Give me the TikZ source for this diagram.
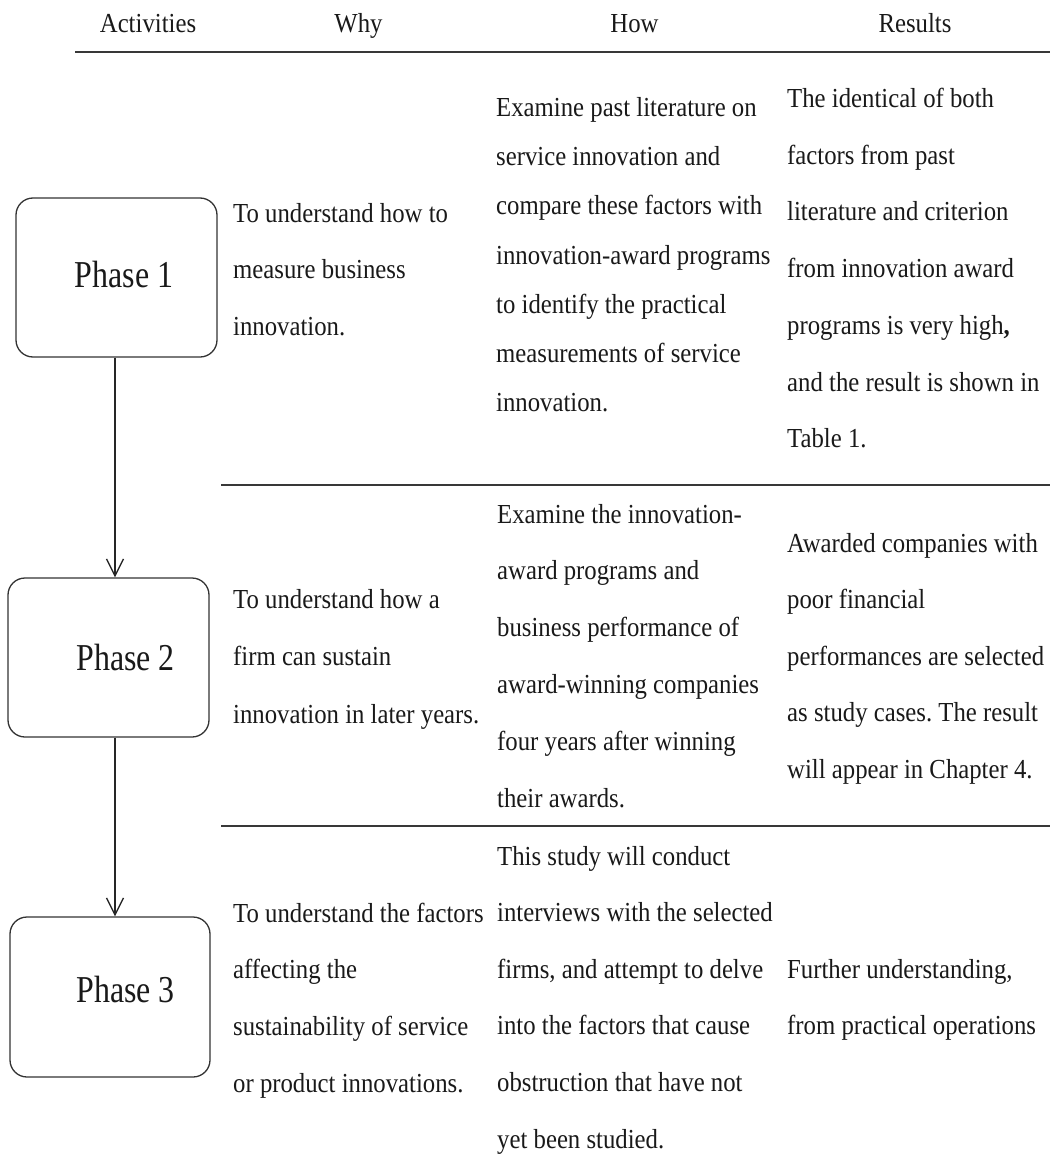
\documentclass[tikz,border=0pt]{standalone}
\usepackage{fontspec}
\setmainfont{Liberation Serif}
\newfontfamily\bodyfont{Liberation Serif}[FakeStretch=0.9]
\newfontfamily\phasefont{Liberation Serif}[FakeStretch=0.84]
\usetikzlibrary{arrows.meta}
\frenchspacing
\newcommand\celllines[5]{%
  \foreach \ln [count=\k] in {#5}{%
    \node[bodytext] (#1-\k) at (#2,{#3+#4*(\k-1)}) {\ln};}}
\tikzset{
  bodytext/.style={font=\bodyfont\fontsize{27.5}{33}\selectfont, anchor=base west, inner sep=0pt, text=black!90},
  headtext/.style={font=\bodyfont\fontsize{27.5}{33}\selectfont, anchor=base, inner sep=0pt, text=black!90},
  phasebox/.style={draw=black!80, line width=1.3pt, rounded corners=17pt, minimum width=201pt, minimum height=159pt, inner sep=0pt},
  phasetext/.style={font=\phasefont\fontsize{38}{40}\selectfont, anchor=base, inner sep=0pt, text=black!90},
  tablerule/.style={draw=black!78, line width=2.4pt},
  flow/.style={draw=black!85, line width=1.3pt, -{Straight Barb[length=17pt,width=17pt,line width=1.3pt]}}
}
\begin{document}
\begin{tikzpicture}[x=1pt,y=-1pt]
\path[use as bounding box] (0,0) rectangle (1050,1156);
% header
\node[headtext] (hact) at (148,33) {Activities};
\node[headtext] (hwhy) at (358.5,33) {Why};
\node[headtext] (hhow) at (634.5,33) {How};
\node[headtext] (hres) at (915,33) {Results};
\draw[tablerule] (75,52) -- (1050,52);
\draw[tablerule] (221,485) -- (1050,485);
\draw[tablerule] (221,826) -- (1050,826);
% phase boxes
\node[phasebox] (p1) at (116.5,277.5) {};
\node[phasebox] (p2) at (108.5,657.5) {};
\node[phasebox, minimum width=200pt, minimum height=160pt] (p3) at (110,997) {};
\node[phasetext] (p1t) at (124,287) {Phase 1};
\node[phasetext] (p2t) at (125.5,670) {Phase 2};
\node[phasetext] (p3t) at (125.5,1002) {Phase 3};
\coordinate (ax) at (115,0);
\draw[flow] (p1.south -| ax) -- (p2.north -| ax);
\draw[flow] (p2.south -| ax) -- (p3.north -| ax);
% row 1
\celllines{w1}{233}{222}{56.7}{To understand how to, measure business, innovation.}
\celllines{h1}{496}{116.5}{49.2}{Examine past literature on, service innovation and, compare these factors with, innovation-award programs, to identify the practical, measurements of service, innovation.}
\celllines{r1}{787}{107.5}{56.7}{The identical of both, factors from past, literature and criterion, from innovation award, {programs is very high\textbf{,}}, and the result is shown in, Table 1.}
% row 2
\celllines{w2}{233}{608}{57.5}{To understand how a, firm can sustain, innovation in later years.}
\celllines{h2}{497}{523}{56.8}{Examine the innovation-, award programs and, business performance of, award-winning companies, four years after winning, their awards.}
\celllines{r2}{787}{552}{56.6}{Awarded companies with, poor financial, performances are selected, as study cases. The result, will appear in Chapter 4.}
% row 3
\celllines{w3}{233}{922}{56.7}{To understand the factors, affecting the, sustainability of service, or product innovations.}
\celllines{h3}{497}{865}{56.6}{This study will conduct, interviews with the selected, {firms, and attempt to delve}, into the factors that cause, obstruction that have not, yet been studied.}
\celllines{r3}{787}{978}{56.6}{{Further understanding,}, from practical operations}
\end{tikzpicture}
\end{document}
